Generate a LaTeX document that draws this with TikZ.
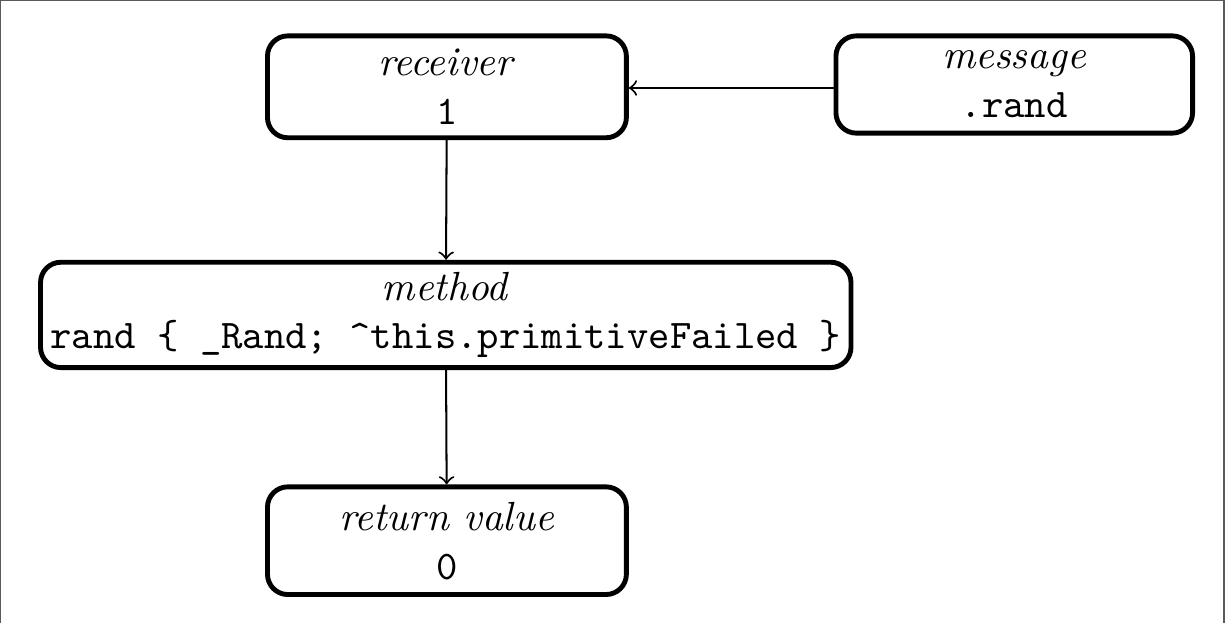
\documentclass[tikz,border=0pt]{standalone}
\usepackage{tikz}
\usetikzlibrary{arrows,positioning}

\begin{document}
\begin{tikzpicture}[
    part/.style={rectangle, draw=black, very thick, fill=white, rounded corners=5pt, align=center, inner sep=2pt},
    link/.style={->, draw=black, line width=0.5pt}
]

% Frame
\useasboundingbox (0,0) rectangle (10.58,-5.38);
\draw[gray!70!black, line width=0.4pt] (0.005,-0.005) rectangle (10.57,-5.6);

% Receiver
\node[part, minimum width=3.1cm, minimum height=0.88cm] (recv) at (3.86,-0.75) {
    \textit{receiver}\\
    \texttt{1}
};

% Message
\node[part, minimum width=3.08cm, minimum height=0.84cm] (msg) at (8.76,-0.73) {
    \textit{message}\\
    \texttt{.rand}
};

% Method
\node[part, minimum width=7.0cm, minimum height=0.91cm] (meth) at (3.85,-2.72) {
    \textit{method}\\
    \texttt{rand \{ \_Rand; \^{}this.primitiveFailed \}}
};

% Return value
\node[part, minimum width=3.1cm, minimum height=0.93cm] (ret) at (3.86,-4.67) {
    \textit{return value}\\
    \texttt{0}
};

% Connectors
\draw[link] (msg.west |- 0,-0.76) -- (recv.east |- 0,-0.76);
\draw[link] (recv) -- (meth);
\draw[link] (meth) -- (ret);

\end{tikzpicture}
\end{document}
